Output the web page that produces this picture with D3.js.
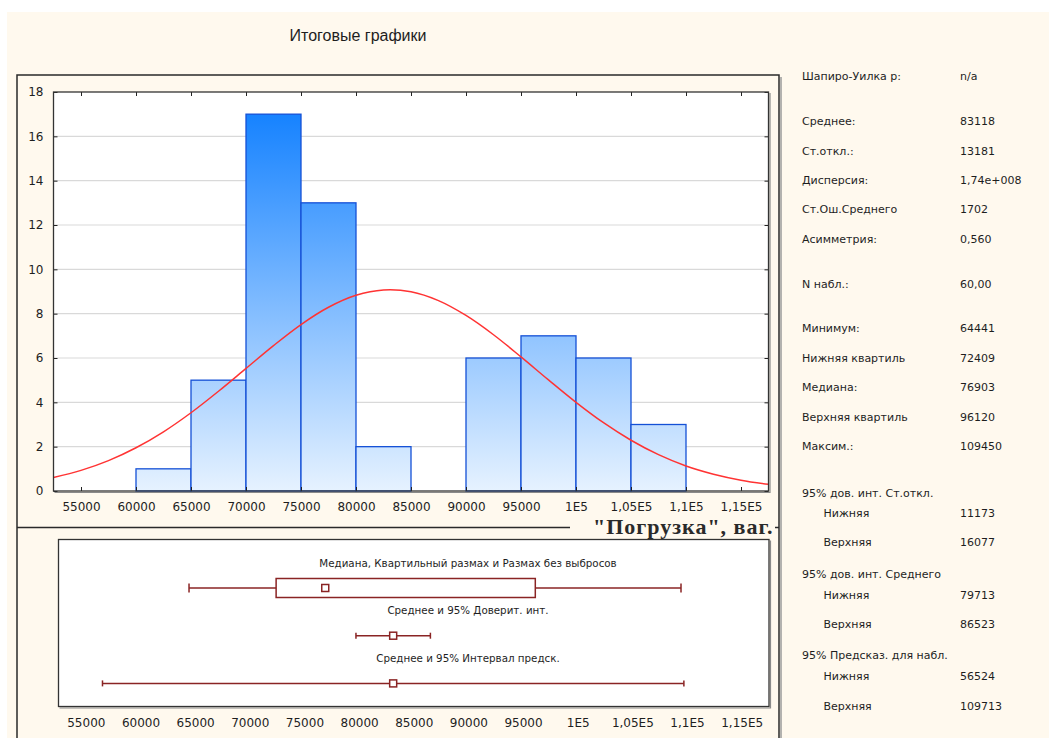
<!DOCTYPE html>
<html>
<head>
  <meta charset="utf-8">
  <title>Итоговые графики</title>
  <script src="https://d3js.org/d3.v7.min.js"></script>
  <style>
    body { margin: 0; background: #fff; }
    svg text { fill: #1e1e1e; }
    .tick text { font-family: "DejaVu Sans", Verdana, sans-serif; font-size: 12px; fill: #1e1e1e; }
    .stat { font-family: "DejaVu Sans", Verdana, sans-serif; font-size: 11px; }
    .boxlbl { font-family: "DejaVu Sans", Verdana, sans-serif; font-size: 10.3px; }
  </style>
</head>
<body>
<div id="chart"></div>
<script>

// histogram: bin starts (step 5000) and counts
let binStarts = [60000, 65000, 70000, 75000, 80000, 85000, 90000, 95000, 100000, 105000];
let counts = [1, 5, 17, 13, 2, 0, 6, 7, 6, 3];
let binWidth = 5000;

// expected normal curve, every 2500
let curveX = [52500, 55000, 57500, 60000, 62500, 65000, 67500, 70000, 72500, 75000, 77500, 80000, 82500,
              85000, 87500, 90000, 92500, 95000, 97500, 100000, 102500, 105000, 107500, 110000, 112500, 115000, 117500];
let curveY = [0.61, 0.93, 1.37, 1.95, 2.67, 3.53, 4.5, 5.53, 6.56, 7.51, 8.29, 8.83, 9.07,
              8.99, 8.59, 7.92, 7.05, 6.05, 5.01, 4.0, 3.08, 2.29, 1.64, 1.13, 0.76, 0.49, 0.3];

let xTicks = [55000, 60000, 65000, 70000, 75000, 80000, 85000, 90000, 95000, 100000, 105000, 110000, 115000];
let xTickLabels = ["55000", "60000", "65000", "70000", "75000", "80000", "85000", "90000", "95000",
                   "1E5", "1,05E5", "1,1E5", "1,15E5"];
let yTicks = [0, 2, 4, 6, 8, 10, 12, 14, 16, 18];

// box plot rows
let boxLabels = ["Медиана, Квартильный размах и Размах без выбросов",
                 "Среднее и 95% Доверит. инт.",
                 "Среднее и 95% Интервал предск."];
let quartiles = [72409, 76903, 96120];   // Q1, median, Q3
let range = [64441, 109450];
let meanVal = 83118;
let meanCI = [79713, 86523];
let predInt = [56524, 109713];

// statistics panel
let statLabels = ["Шапиро-Уилка р:", "Среднее:", "Ст.откл.:", "Дисперсия:", "Ст.Ош.Среднего", "Асимметрия:",
                  "N набл.:", "Минимум:", "Нижняя квартиль", "Медиана:", "Верхняя квартиль", "Максим.:",
                  "95% дов. инт. Ст.откл.", "Нижняя", "Верхняя",
                  "95% дов. инт. Среднего", "Нижняя", "Верхняя",
                  "95% Предсказ. для набл.", "Нижняя", "Верхняя"];
let statValues = ["n/a", "83118", "13181", "1,74e+008", "1702", "0,560",
                  "60,00", "64441", "72409", "76903", "96120", "109450",
                  "", "11173", "16077",
                  "", "79713", "86523",
                  "", "56524", "109713"];
let statIndent = [0,0,0,0,0,0, 0,0,0,0,0,0, 0,1,1, 0,1,1, 0,1,1];
let statRowY = [76, 121.5, 151, 180.5, 209.5, 239, 284.5, 328.5, 358, 387.5, 417, 446.5,
                493, 513.5, 542.5, 574, 595, 624, 655, 676.5, 706];

let width = 1049, height = 738;
let red = "#8a2424";

let svg = d3.select("#chart").append("svg")
    .attr("width", width)
    .attr("height", height);

// cream page
svg.append("rect")
    .attr("x", 7).attr("y", 12)
    .attr("width", width - 7).attr("height", height - 12)
    .attr("fill", "#fff9ee");

svg.append("text")
    .attr("x", 358).attr("y", 35).attr("dy", "0.35em")
    .attr("text-anchor", "middle")
    .style("font-family", "'Liberation Sans', Arial, sans-serif")
    .style("font-size", "16px")
    .text("Итоговые графики");

// outer frame
svg.append("line").attr("x1", 781).attr("x2", 781).attr("y1", 77).attr("y2", height)
    .attr("stroke", "#9a9a9a").attr("stroke-width", 1.5);
svg.append("rect")
    .attr("x", 17).attr("y", 75)
    .attr("width", 762).attr("height", 700)
    .attr("fill", "none").attr("stroke", "#2a2a2a").attr("stroke-width", 1.5);
svg.append("line").attr("x1", 17).attr("x2", 570).attr("y1", 527.5).attr("y2", 527.5)
    .attr("stroke", "#2a2a2a").attr("stroke-width", 1.5);
svg.append("line").attr("x1", 775).attr("x2", 779).attr("y1", 527.5).attr("y2", 527.5)
    .attr("stroke", "#2a2a2a").attr("stroke-width", 1.5);

// ---------------- histogram ----------------
let plot = {left: 53.5, top: 92, right: 768.5, bottom: 491};

let x = d3.scaleLinear().domain([52500, 117500]).range([plot.left, plot.right]);
let y = d3.scaleLinear().domain([0, 18]).range([plot.bottom, plot.top]);

let grad = svg.append("defs").append("linearGradient")
    .attr("id", "barfill")
    .attr("gradientUnits", "userSpaceOnUse")
    .attr("x1", 0).attr("x2", 0)
    .attr("y1", plot.top).attr("y2", plot.bottom);
grad.append("stop").attr("offset", "0%").attr("stop-color", "#0a7cff");
grad.append("stop").attr("offset", "100%").attr("stop-color", "#e6f2ff");

svg.append("rect")
    .attr("x", plot.left).attr("y", plot.top)
    .attr("width", plot.right - plot.left).attr("height", plot.bottom - plot.top)
    .attr("fill", "#fff");

// grid
svg.append("g")
  .selectAll("line")
  .data(yTicks.filter(d => d > 0 && d < 18))
  .enter().append("line")
    .attr("x1", plot.left).attr("x2", plot.right)
    .attr("y1", d => y(d)).attr("y2", d => y(d))
    .attr("stroke", "#d9d9d9").attr("stroke-width", 1.2);

// bars
svg.append("g")
  .selectAll("rect")
  .data(binStarts.map((b, i) => ({x0: b, n: counts[i]})).filter(d => d.n > 0))
  .enter().append("rect")
    .attr("x", d => x(d.x0))
    .attr("y", d => y(d.n))
    .attr("width", d => x(d.x0 + binWidth) - x(d.x0))
    .attr("height", d => y(0) - y(d.n))
    .attr("fill", "url(#barfill)")
    .attr("stroke", "#1450d6")
    .attr("stroke-width", 1.3);

// normal curve
let curveLine = d3.line()
    .x((d, i) => x(curveX[i]))
    .y(d => y(d))
    .curve(d3.curveCatmullRom);
svg.append("path")
    .datum(curveY)
    .attr("d", curveLine)
    .attr("fill", "none")
    .attr("stroke", "#ff3333")
    .attr("stroke-width", 1.5);

// axes with inside ticks
let xFmt = d => xTickLabels[xTicks.indexOf(d)];

svg.append("g")
    .attr("transform", "translate(0," + plot.bottom + ")")
    .call(d3.axisBottom(x).tickValues(xTicks).tickFormat(xFmt).tickSize(-4).tickPadding(11))
    .call(g => g.select(".domain").remove())
    .call(g => g.selectAll(".tick line").attr("stroke", "#222"));

svg.append("g")
    .attr("transform", "translate(0," + plot.top + ")")
    .call(d3.axisTop(x).tickValues(xTicks).tickFormat("").tickSize(-4))
    .call(g => g.select(".domain").remove())
    .call(g => g.selectAll(".tick line").attr("stroke", "#222"));

svg.append("g")
    .attr("transform", "translate(" + plot.left + ",0)")
    .call(d3.axisLeft(y).tickValues(yTicks).tickFormat(d3.format("d")).tickSize(-4).tickPadding(10))
    .call(g => g.select(".domain").remove())
    .call(g => g.selectAll(".tick line").attr("stroke", "#222"));

svg.append("g")
    .attr("transform", "translate(" + plot.right + ",0)")
    .call(d3.axisRight(y).tickValues(yTicks).tickFormat("").tickSize(-4))
    .call(g => g.select(".domain").remove())
    .call(g => g.selectAll(".tick line").attr("stroke", "#222"));

// plot frame with a small shadow on right/bottom
svg.append("path")
    .attr("d", "M" + (plot.left + 1) + "," + (plot.bottom + 1.5) + "H" + (plot.right + 1.5) + "V" + (plot.top + 1))
    .attr("fill", "none").attr("stroke", "#8a8a8a").attr("stroke-width", 1.2);
svg.append("rect")
    .attr("x", plot.left).attr("y", plot.top)
    .attr("width", plot.right - plot.left).attr("height", plot.bottom - plot.top)
    .attr("fill", "none").attr("stroke", "#333").attr("stroke-width", 1.3);

svg.append("text")
    .attr("x", 773.5).attr("y", 533.5)
    .attr("text-anchor", "end")
    .style("font-family", "'Liberation Serif', 'Times New Roman', serif")
    .style("font-weight", "bold")
    .style("font-size", "22px")
    .style("letter-spacing", "1px")
    .style("fill", "#2a2a2a")
    .text("\"Погрузка\", ваг.");

// ---------------- box plot ----------------
let box = {left: 58.5, top: 539.5, right: 769, bottom: 706.5};
let bx = d3.scaleLinear().domain([52500, 117500]).range([box.left, box.right]);
let rowY = i => 588 + 47.7 * i;
let labelX = 468;

svg.append("path")
    .attr("d", "M" + (box.left + 1) + "," + (box.bottom + 1.5) + "H" + (box.right + 1.5) + "V" + (box.top + 1))
    .attr("fill", "none").attr("stroke", "#8a8a8a").attr("stroke-width", 1.2);
svg.append("rect")
    .attr("x", box.left).attr("y", box.top)
    .attr("width", box.right - box.left).attr("height", box.bottom - box.top)
    .attr("fill", "#fff").attr("stroke", "#333").attr("stroke-width", 1.3);

svg.append("g")
  .selectAll("text")
  .data(boxLabels)
  .enter().append("text")
    .attr("class", "boxlbl")
    .attr("x", labelX)
    .attr("y", (d, i) => rowY(i) - 25)
    .attr("dy", "0.35em")
    .attr("text-anchor", "middle")
    .text(d => d);

let whiskers = [range, meanCI, predInt];
let centers = [quartiles[1], meanVal, meanVal];

let rows = svg.append("g")
    .attr("stroke", red).attr("stroke-width", 1.5).attr("fill", "none");

rows.selectAll("line.span")
  .data(whiskers)
  .enter().append("line")
    .attr("class", "span")
    .attr("x1", d => bx(d[0])).attr("x2", d => bx(d[1]))
    .attr("y1", (d, i) => rowY(i)).attr("y2", (d, i) => rowY(i));

whiskers.forEach((w, i) => {
  rows.selectAll(null)
    .data(w)
    .enter().append("line")
      .attr("x1", d => bx(d)).attr("x2", d => bx(d))
      .attr("y1", rowY(i) - (i === 0 ? 4.5 : 3)).attr("y2", rowY(i) + (i === 0 ? 4.5 : 3));
});

rows.append("rect")
    .attr("x", bx(quartiles[0]))
    .attr("y", rowY(0) - 9.5)
    .attr("width", bx(quartiles[2]) - bx(quartiles[0]))
    .attr("height", 19)
    .attr("fill", "#fff");

rows.selectAll("rect.mark")
  .data(centers)
  .enter().append("rect")
    .attr("class", "mark")
    .attr("x", d => bx(d) - 3.5)
    .attr("y", (d, i) => rowY(i) - 3.5)
    .attr("width", 7).attr("height", 7)
    .attr("fill", "#fff");

svg.append("g")
    .attr("transform", "translate(0," + box.bottom + ")")
    .call(d3.axisBottom(bx).tickValues(xTicks).tickFormat(xFmt).tickSize(0).tickPadding(12))
    .call(g => g.select(".domain").remove());

// ---------------- statistics panel ----------------
let stats = svg.append("g").attr("class", "stat");

stats.selectAll("text.lbl")
  .data(statLabels)
  .enter().append("text")
    .attr("class", "lbl")
    .attr("x", (d, i) => statIndent[i] ? 823.5 : 802)
    .attr("y", (d, i) => statRowY[i])
    .attr("dy", "0.35em")
    .text(d => d);

stats.selectAll("text.val")
  .data(statValues)
  .enter().append("text")
    .attr("class", "val")
    .attr("x", 960)
    .attr("y", (d, i) => statRowY[i])
    .attr("dy", "0.35em")
    .text(d => d);

</script>
</body>
</html>
